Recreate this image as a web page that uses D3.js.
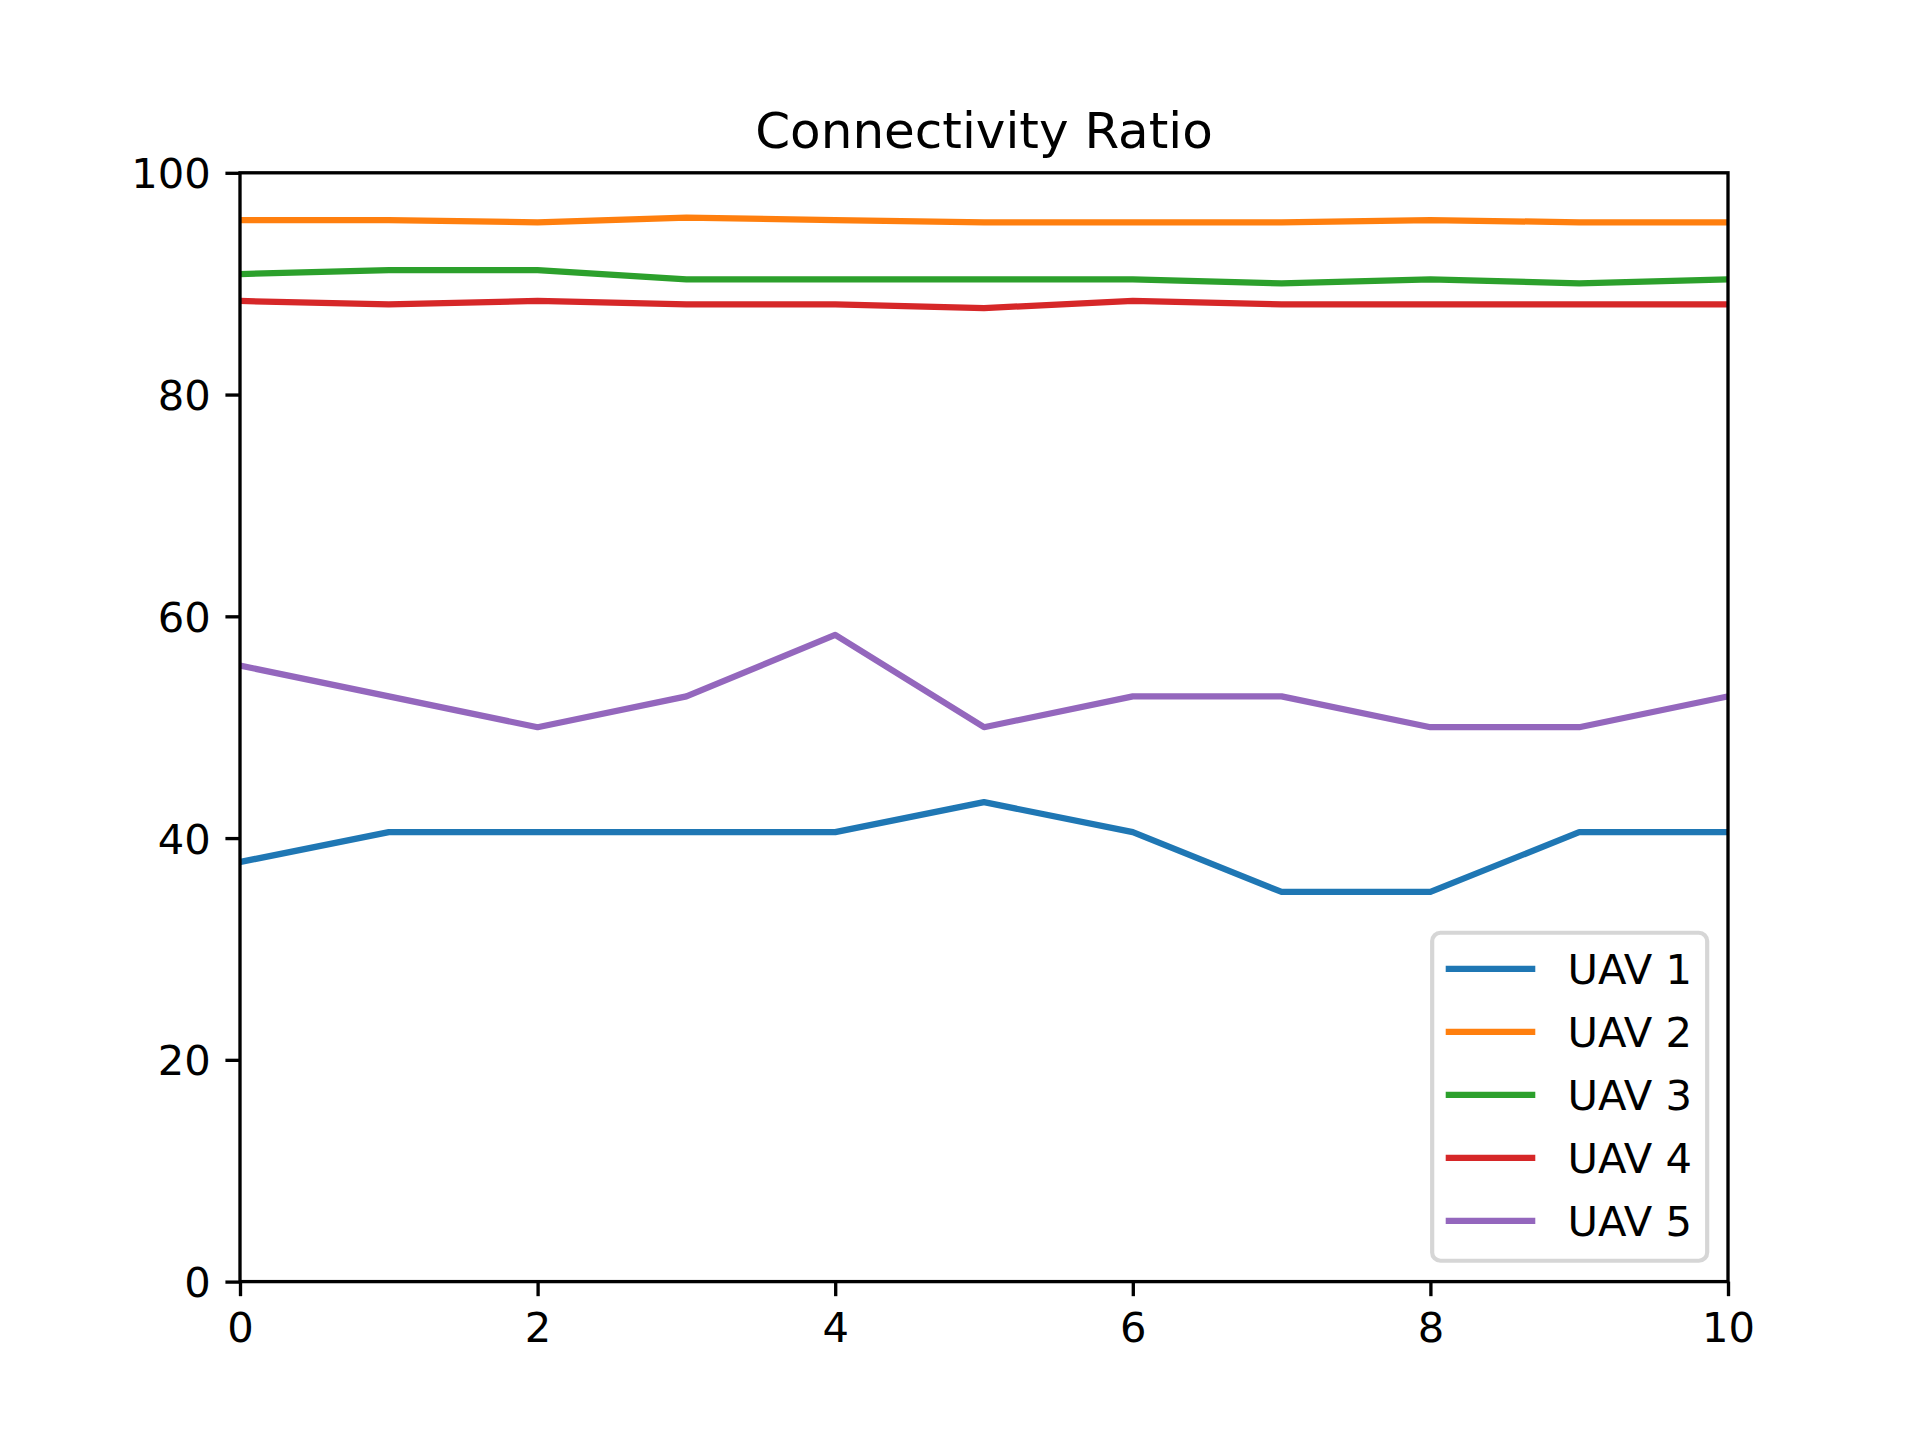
<!DOCTYPE html>
<html>
<head>
<meta charset="utf-8">
<script src="https://cdn.jsdelivr.net/npm/d3@7"></script>
<style>
  body { margin: 0; background: #fff; }
  text { font-family: 'DejaVu Sans', sans-serif; fill: #000; }
</style>
</head>
<body>
<script>
// data
const steps = [0, 1, 2, 3, 4, 5, 6, 7, 8, 9, 10]
const uav1 = [37.84, 40.54, 40.54, 40.54, 40.54, 43.24, 40.54, 35.14, 35.14, 40.54, 40.54]
const uav2 = [95.74, 95.74, 95.53, 95.95, 95.74, 95.53, 95.53, 95.53, 95.74, 95.53, 95.53]
const uav3 = [90.87, 91.23, 91.23, 90.39, 90.39, 90.39, 90.39, 90.03, 90.39, 90.03, 90.39]
const uav4 = [88.44, 88.14, 88.44, 88.14, 88.14, 87.80, 88.44, 88.14, 88.14, 88.14, 88.14]
const uav5 = [55.56, 52.78, 50.00, 52.78, 58.33, 50.00, 52.78, 52.78, 50.00, 50.00, 52.78]
const seriesNames = ['UAV 1', 'UAV 2', 'UAV 3', 'UAV 4', 'UAV 5']
const seriesValues = [uav1, uav2, uav3, uav4, uav5]
const colors = ['#1f77b4', '#ff7f0e', '#2ca02c', '#d62728', '#9467bd']
const xTicks = [0, 2, 4, 6, 8, 10]
const yTicks = [0, 20, 40, 60, 80, 100]
const title = 'Connectivity Ratio'

// matplotlib default figure 6.4x4.8 in at 300 dpi
const W = 1920, H = 1440
const pt = 300 / 72
const margin = { top: H * 0.12, right: W * 0.1, bottom: H * 0.11, left: W * 0.125 }
const width = W - margin.left - margin.right
const height = H - margin.top - margin.bottom
const fontSize = 10 * pt

const svg = d3.select('body').append('svg')
    .attr('width', W)
    .attr('height', H)
svg.append('rect').attr('width', W).attr('height', H).attr('fill', '#fff')

const g = svg.append('g')
    .attr('transform', `translate(${margin.left},${margin.top})`)

const xScale = d3.scaleLinear().domain([0, 10]).range([0, width])
const yScale = d3.scaleLinear().domain([0, 100]).range([height, 0])

g.append('clipPath').attr('id', 'clip')
  .append('rect').attr('width', width).attr('height', height)

const line = d3.line()
    .x((d, i) => xScale(steps[i]))
    .y(d => yScale(d))

g.append('g').attr('clip-path', 'url(#clip)')
  .selectAll('path')
    .data(seriesValues)
    .enter().append('path')
    .attr('d', line)
    .attr('fill', 'none')
    .attr('stroke', (d, i) => colors[i])
    .attr('stroke-width', 1.5 * pt)
    .attr('stroke-linejoin', 'round')
    .attr('stroke-linecap', 'square')

// axes
const tickLen = 3.5 * pt
const tickPad = 3.5 * pt
const xAxis = d3.axisBottom(xScale)
    .tickValues(xTicks)
    .tickSize(tickLen)
    .tickPadding(tickPad)
    .tickFormat(d3.format('d'))
const yAxis = d3.axisLeft(yScale)
    .tickValues(yTicks)
    .tickSize(tickLen)
    .tickPadding(tickPad)
    .tickFormat(d3.format('d'))

const gx = g.append('g')
    .attr('transform', `translate(0,${height})`)
    .call(xAxis)
const gy = g.append('g').call(yAxis)

for (const ax of [gx, gy]) {
    ax.select('.domain').remove()
    ax.selectAll('line').attr('stroke', '#000').attr('stroke-width', 0.8 * pt)
    ax.selectAll('text')
        .attr('font-size', fontSize)
        .attr('font-family', 'DejaVu Sans')
}
gx.selectAll('text').attr('dy', '0.76em')
gy.selectAll('text').attr('dy', '0.36em')

// spines
g.append('rect')
    .attr('width', width)
    .attr('height', height)
    .attr('fill', 'none')
    .attr('stroke', '#000')
    .attr('stroke-width', 0.8 * pt)

// title
g.append('text')
    .attr('x', width / 2)
    .attr('y', -6 * pt)
    .attr('text-anchor', 'middle')
    .attr('font-size', 12 * pt)
    .text(title)

// legend, lower right
const fs = fontSize
const pad = 0.5 * fs
const rowH = 63
const legW = 275
const legH = 328
const legX = width - pad - legW
const legY = height - pad - legH
const leg = g.append('g').attr('transform', `translate(${legX},${legY})`)
leg.append('rect')
    .attr('width', legW)
    .attr('height', legH)
    .attr('rx', 0.2 * fs)
    .attr('fill', '#fff')
    .attr('fill-opacity', 0.8)
    .attr('stroke', '#cccccc')
    .attr('stroke-opacity', 0.8)
    .attr('stroke-width', 1 * pt)
const items = leg.selectAll('g.item')
    .data(seriesNames)
    .enter().append('g')
    .attr('class', 'item')
    .attr('transform', (d, i) => `translate(0,${36 + i * rowH})`)
items.append('line')
    .attr('x1', 0.4 * fs).attr('x2', 2.4 * fs)
    .attr('stroke', (d, i) => colors[i])
    .attr('stroke-width', 1.5 * pt)
    .attr('stroke-linecap', 'square')
items.append('text')
    .attr('x', 3.2 * fs + 2)
    .attr('dy', '0.36em')
    .attr('font-size', fs)
    .text(d => d)
</script>
</body>
</html>
